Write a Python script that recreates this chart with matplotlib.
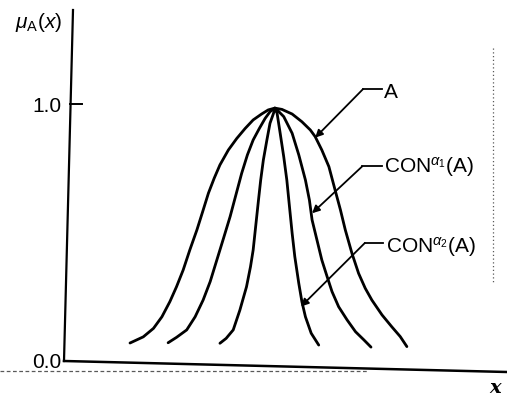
import matplotlib
matplotlib.use("Agg")
import matplotlib.pyplot as plt
from matplotlib.lines import Line2D
import matplotlib.transforms as mtransforms

plt.rcParams['font.family'] = ['Liberation Sans', 'DejaVu Sans']
plt.rcParams['mathtext.fontset'] = 'custom'
plt.rcParams['mathtext.rm'] = 'Liberation Sans'
plt.rcParams['mathtext.it'] = 'Liberation Sans:italic'
plt.rcParams['mathtext.bf'] = 'Liberation Sans:bold'

# ---- data ----
A_x = [1.49, 1.79, 2.02, 2.21, 2.39, 2.54, 2.69, 2.84, 3.00, 3.13, 3.26, 3.39,
       3.52, 3.71, 3.90, 4.09, 4.27, 4.46, 4.61, 4.76,
       4.92, 5.15, 5.37, 5.56, 5.67, 5.82, 5.98, 6.12, 6.24, 6.35, 6.50, 6.65,
       6.80, 6.95, 7.18, 7.40, 7.59, 7.74]
A_y = [0.070, 0.094, 0.127, 0.172, 0.231, 0.289, 0.354, 0.432, 0.510, 0.581,
       0.653, 0.711, 0.763, 0.821, 0.866, 0.905, 0.938, 0.961, 0.977, 0.984,
       0.979, 0.961, 0.931, 0.899, 0.873, 0.821, 0.756, 0.665, 0.588, 0.510,
       0.419, 0.341, 0.283, 0.237, 0.179, 0.133, 0.095, 0.056]

CON1_x = [2.35, 2.54, 2.77, 2.96, 3.14, 3.30, 3.45, 3.60, 3.75, 3.88, 4.01,
          4.14, 4.27, 4.41, 4.54, 4.65, 4.76,
          4.81, 4.96, 5.15, 5.30, 5.45, 5.54, 5.60, 5.71, 5.82, 5.94, 6.05,
          6.20, 6.39, 6.58, 6.77, 6.93]
CON1_y = [0.071, 0.092, 0.121, 0.172, 0.237, 0.309, 0.393, 0.477, 0.562,
          0.646, 0.730, 0.802, 0.860, 0.905, 0.944, 0.970, 0.984,
          0.977, 0.951, 0.886, 0.802, 0.704, 0.626, 0.549, 0.471, 0.393,
          0.328, 0.270, 0.211, 0.160, 0.114, 0.082, 0.054]

CON2_x = [3.52, 3.66, 3.82, 3.97, 4.12, 4.21, 4.27, 4.33, 4.39, 4.44, 4.50,
          4.58, 4.65, 4.73, 4.76,
          4.81, 4.88, 4.96, 5.03, 5.09, 5.15, 5.21, 5.30, 5.37, 5.45, 5.58, 5.75]
CON2_y = [0.069, 0.088, 0.121, 0.198, 0.289, 0.367, 0.432, 0.529, 0.626,
          0.704, 0.782, 0.860, 0.925, 0.964, 0.984,
          0.964, 0.886, 0.795, 0.704, 0.600, 0.497, 0.406, 0.302, 0.231,
          0.172, 0.108, 0.062]

ytick_vals = [0.0, 1.0]
ytick_labels = ['0.0', '1.0']

labels = ['A', r'CON$^{\alpha_1}$(A)', r'CON$^{\alpha_2}$(A)']
label_pos = [(7.23, 1.046), (7.23, 0.753), (7.27, 0.444)]
elbow_pos = [(6.75, 1.058), (6.73, 0.757), (6.79, 0.459)]
elbow_end = [7.18, 7.18, 7.20]
tip_pos = [(5.67, 0.869), (5.60, 0.575), (5.35, 0.212)]

W, H = 507, 396
fig = plt.figure(figsize=(W / 100, H / 100), dpi=100)
ax = fig.add_axes([64 / W, (H - 361) / H, 443 / W, 351 / H])
ax.set_xlim(0, 10)
ax.set_ylim(0, 351 / 257)
for s in ax.spines.values():
    s.set_visible(False)
ax.set_xticks([])
ax.set_yticks(ytick_vals)
ax.set_yticklabels(ytick_labels, fontsize=15)
ax.tick_params(axis='y', length=0, pad=2)

lw = 2.0
for xs, ys in [(A_x, A_y), (CON1_x, CON1_y), (CON2_x, CON2_y)]:
    ax.plot(xs, ys, color='black', lw=lw, solid_joinstyle='round',
            solid_capstyle='round')

# axes lines (slightly tilted as in the scan)
ax.plot([0, 9 / 443], [0, 1], transform=ax.transAxes, color='black', lw=1.6,
        clip_on=False)
ax.plot([0, 1], [0, -11 / 351], transform=ax.transAxes, color='black', lw=1.8,
        clip_on=False)
blend = mtransforms.blended_transform_factory(ax.transAxes, ax.transData)
ax.plot([6 / 443, 18 / 443], [1.0, 1.0], transform=blend, color='black', lw=1.4,
        clip_on=False)

# annotations
for lab, lp, ep, ee, tp in zip(labels, label_pos, elbow_pos, elbow_end, tip_pos):
    ax.text(lp[0], lp[1], lab, ha='left', va='center', fontsize=15)
    ax.plot([ep[0], ee], [ep[1], ep[1]], color='black', lw=1.3)
    ax.annotate('', xy=tp, xytext=ep,
                arrowprops=dict(arrowstyle='-|>', color='black', lw=1.3,
                                mutation_scale=11, shrinkA=0, shrinkB=0))

# scan artefacts: dotted edge on the right, dashed bleed-through below axis
ax.plot([9.68, 9.68], [1.218, 0.30], ls=(0, (1, 2)), color='0.35', lw=0.9)
fig.add_artist(Line2D([0, 367 / W], [1 - 371 / H, 1 - 371 / H],
                      ls=(0, (3, 2)), color='0.35', lw=0.9))

fig.text(15 / W, 1 - 23 / H, r'$\mu_{\mathrm{A}}(x)$', ha='left', va='center',
         fontsize=15)
fig.text(495 / W, 1 - 393 / H, 'x', ha='center', va='baseline', fontsize=14,
         family='DejaVu Serif', style='italic', weight='bold')

fig.savefig('out.png', dpi=100)
